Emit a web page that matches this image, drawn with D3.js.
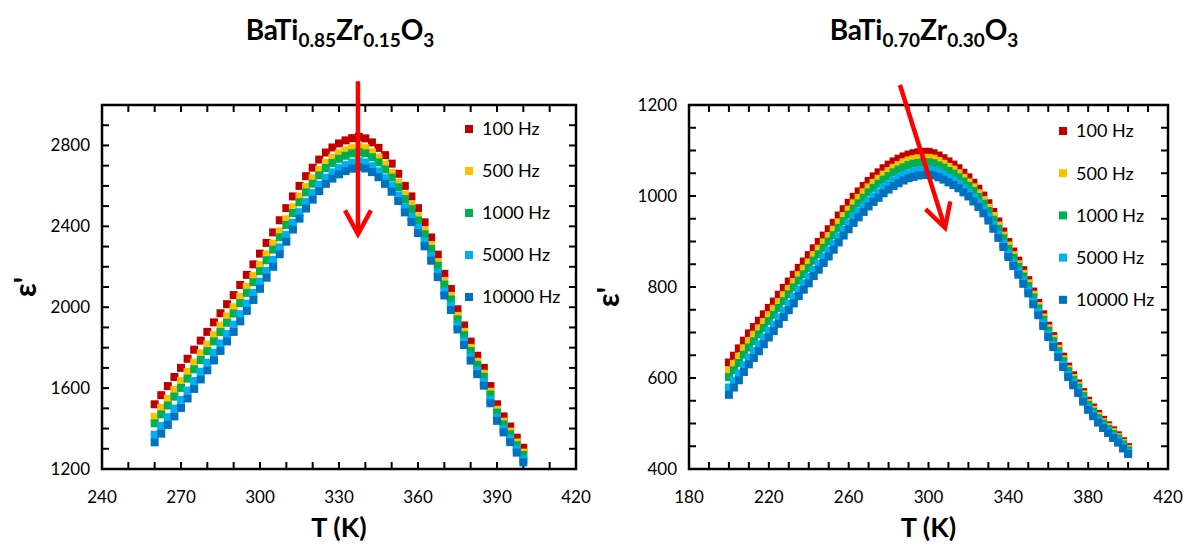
<!DOCTYPE html>
<html><head><meta charset="utf-8">
<script src="https://cdn.jsdelivr.net/npm/d3@7"></script>
<style>
body{margin:0;background:#fff;}
svg{display:block;font-family:Lato,"Open Sans",sans-serif;}
</style>
</head><body>
<svg id="chart" width="1192" height="545"></svg>
<script>
// ---------- data ----------
const frequencies = ["100 Hz", "500 Hz", "1000 Hz", "5000 Hz", "10000 Hz"];
const seriesColors = ["#C00000", "#FFC000", "#00B050", "#00B0F0", "#0070C0"];

// BaTi0.85Zr0.15O3
const tempA = [260,262.5,265,267.5,270,272.5,275,277.5,280,282.5,285,287.5,290,292.5,295,297.5,300,302.5,305,307.5,310,312.5,315,317.5,320,322.5,325,327.5,330,332.5,335,337.5,340,342.5,345,347.5,350,352.5,355,357.5,360,362.5,365,367.5,370,372.5,375,377.5,380,382.5,385,387.5,390,392.5,395,397.5,400];
const epsA_100 = [1520,1565,1610,1655,1700,1745,1790,1835,1878,1925,1970,2015,2060,2110,2160,2212,2265,2318,2370,2430,2490,2548,2600,2648,2690,2730,2765,2790,2810,2825,2836,2842,2835,2815,2788,2752,2710,2660,2600,2548,2490,2420,2345,2260,2165,2090,1990,1910,1830,1760,1700,1610,1520,1460,1410,1355,1305];
const epsA_500 = [1458,1502,1547,1591,1635,1680,1726,1772,1815,1863,1909,1954,2000,2051,2101,2154,2208,2261,2314,2375,2435,2494,2547,2595,2638,2679,2714,2739,2760,2775,2786,2793,2786,2766,2740,2705,2664,2615,2557,2506,2449,2381,2307,2223,2130,2056,1957,1878,1799,1730,1671,1582,1493,1434,1385,1331,1281];
const epsA_1000 = [1426,1470,1514,1558,1601,1647,1693,1739,1783,1831,1877,1923,1969,2020,2071,2124,2178,2232,2285,2346,2407,2466,2519,2568,2611,2652,2688,2713,2734,2749,2761,2767,2761,2742,2716,2681,2641,2593,2535,2485,2429,2361,2288,2205,2112,2038,1940,1862,1783,1715,1656,1568,1479,1421,1372,1318,1269];
const epsA_5000 = [1370,1413,1456,1499,1542,1588,1635,1681,1726,1775,1821,1868,1914,1966,2018,2071,2126,2180,2234,2296,2357,2417,2470,2520,2564,2605,2641,2667,2688,2703,2715,2722,2716,2697,2672,2638,2599,2552,2495,2446,2392,2325,2253,2171,2079,2007,1910,1832,1755,1687,1630,1542,1454,1397,1348,1296,1247];
const epsA_10000 = [1332,1375,1418,1460,1502,1549,1596,1643,1688,1737,1784,1831,1878,1930,1982,2036,2091,2146,2200,2262,2324,2384,2438,2488,2532,2574,2610,2636,2657,2673,2685,2692,2686,2668,2643,2610,2571,2525,2469,2421,2367,2301,2230,2149,2058,1986,1890,1813,1736,1669,1612,1525,1438,1381,1333,1281,1233];

// BaTi0.70Zr0.30O3
const tempB = [200,202.5,205,207.5,210,212.5,215,217.5,220,222.5,225,227.5,230,232.5,235,237.5,240,242.5,245,247.5,250,252.5,255,257.5,260,262.5,265,267.5,270,272.5,275,277.5,280,282.5,285,287.5,290,292.5,295,297.5,300,302.5,305,307.5,310,312.5,315,317.5,320,322.5,325,327.5,330,332.5,335,337.5,340,342.5,345,347.5,350,352.5,355,357.5,360,362.5,365,367.5,370,372.5,375,377.5,380,382.5,385,387.5,390,392.5,395,397.5,400];
const epsB_100 = [634,649,665,682,698,712,726,740,754,768,783,798,812,827,842,856,870,885,899,913,927,941,957,971,985,998,1010,1022,1033,1043,1052,1061,1069,1076,1082,1087,1091,1094,1096,1097,1097,1094,1089,1083,1076,1069,1061,1051,1041,1029,1016,1001,984,965,944,922,899,878,858,837,815,790,765,740,715,692,670,647,625,606,588,569,550,535,521,508,496,485,474,461,448];
const epsB_500 = [616,631,647,665,681,695,709,723,738,752,767,782,796,811,826,840,854,870,884,898,912,926,942,956,970,984,996,1008,1019,1029,1038,1047,1055,1062,1068,1074,1078,1081,1083,1084,1084,1082,1077,1071,1064,1058,1050,1040,1030,1019,1006,991,974,956,935,913,891,870,850,829,808,783,758,733,709,686,664,641,619,600,583,564,545,530,516,503,492,481,470,457,444];
const epsB_1000 = [602,617,633,651,667,681,696,710,725,739,754,769,784,799,814,828,842,858,872,886,900,914,930,945,959,972,984,996,1008,1018,1027,1036,1044,1052,1058,1063,1068,1071,1073,1074,1074,1072,1067,1062,1055,1049,1041,1032,1022,1011,998,983,967,948,928,907,884,864,844,823,802,777,753,728,704,681,659,637,615,596,579,560,541,526,512,500,488,477,467,454,441];
const epsB_5000 = [579,594,610,628,645,659,674,689,703,717,733,748,763,778,794,808,822,837,851,866,880,895,911,926,940,954,966,978,989,999,1008,1018,1026,1034,1040,1046,1050,1053,1056,1057,1058,1056,1052,1046,1040,1034,1027,1017,1008,997,985,971,954,936,916,895,873,853,834,814,792,768,744,720,695,673,651,629,607,589,572,553,534,520,506,494,483,472,462,449,436];
const epsB_10000 = [563,579,595,613,630,644,659,674,689,703,719,734,749,764,780,794,808,824,838,853,867,882,898,913,927,941,953,965,977,987,996,1006,1014,1022,1028,1034,1039,1042,1045,1046,1047,1045,1041,1036,1030,1024,1017,1008,999,988,976,962,946,928,908,888,866,846,827,807,786,762,738,714,690,668,646,624,602,584,567,548,530,516,502,490,479,468,458,445,433];

// axis ticks
const xTicksA = [240,270,300,330,360,390,420];
const yTicksA = [1200,1600,2000,2400,2800];
const xTicksB = [180,220,260,300,340,380,420];
const yTicksB = [400,600,800,1000,1200];

// ---------- drawing ----------
const svg = d3.select("#chart");

function panel(cfg) {
  const g = svg.append("g");
  const x = d3.scaleLinear().domain(cfg.xDomain).range([cfg.left, cfg.right]);
  const y = d3.scaleLinear().domain(cfg.yDomain).range([cfg.bottom, cfg.top]);
  const tickLen = 7;

  // ticks (inside, on all four sides)
  const xt = d3.range(cfg.xDomain[0], cfg.xDomain[1] + 0.01, cfg.xMinor);
  const yt = d3.range(cfg.yDomain[0], cfg.yDomain[1] + 0.01, cfg.yMinor);
  const tk = g.append("g").attr("stroke", "#000").attr("stroke-width", 2);
  xt.forEach(v => {
    tk.append("line").attr("x1", x(v)).attr("x2", x(v)).attr("y1", cfg.bottom).attr("y2", cfg.bottom - tickLen);
    tk.append("line").attr("x1", x(v)).attr("x2", x(v)).attr("y1", cfg.top).attr("y2", cfg.top + tickLen);
  });
  yt.forEach(v => {
    tk.append("line").attr("y1", y(v)).attr("y2", y(v)).attr("x1", cfg.left).attr("x2", cfg.left + tickLen);
    tk.append("line").attr("y1", y(v)).attr("y2", y(v)).attr("x1", cfg.right).attr("x2", cfg.right - tickLen);
  });

  // tick labels
  g.append("g").selectAll("text").data(cfg.xTicks).join("text")
    .attr("x", d => x(d)).attr("y", cfg.bottom + 34)
    .attr("text-anchor", "middle").attr("font-size", 17).attr("fill", "#000")
    .text(d => d);
  g.append("g").selectAll("text").data(cfg.yTicks).join("text")
    .attr("x", cfg.left - 12).attr("y", d => y(d)).attr("dy", "0.35em")
    .attr("text-anchor", "end").attr("font-size", 17).attr("fill", "#000")
    .text(d => d);

  // data squares (first series at the bottom)
  const sz = 8;
  cfg.series.forEach((vals, si) => {
    g.append("g").attr("fill", seriesColors[si]).selectAll("rect")
      .data(vals.map((v, i) => [cfg.temps[i], v])).join("rect")
      .attr("x", d => x(d[0]) - sz / 2).attr("y", d => y(d[1]) - sz / 2)
      .attr("width", sz).attr("height", sz);
  });

  // frame
  g.append("rect").attr("x", cfg.left).attr("y", cfg.top)
    .attr("width", cfg.right - cfg.left).attr("height", cfg.bottom - cfg.top)
    .attr("fill", "none").attr("stroke", "#000").attr("stroke-width", 2.5);

  // legend
  frequencies.forEach((f, i) => {
    const ly = cfg.legY + i * cfg.legStep;
    g.append("rect").attr("x", cfg.legX - 4).attr("y", ly - 4).attr("width", 8).attr("height", 8)
      .attr("fill", seriesColors[i]);
    g.append("text").attr("x", cfg.legX + 13).attr("y", ly).attr("dy", "0.36em")
      .attr("font-size", 18).attr("fill", "#000").text(f);
  });

  // axis titles
  g.append("text").attr("x", (cfg.left + cfg.right) / 2).attr("y", 537)
    .attr("text-anchor", "middle").attr("font-size", 27).attr("font-weight", "bold")
    .text("T (K)");
  g.append("text").attr("transform", `translate(${cfg.yLabX},${cfg.yLabY}) rotate(-90)`)
    .attr("text-anchor", "middle").attr("font-size", 30).attr("font-weight", "bold")
    .text("\u03B5'");

  // chart title with subscripts
  const t = g.append("text").attr("x", cfg.titleX).attr("y", 40)
    .attr("text-anchor", "middle").attr("font-size", 28).attr("font-weight", "bold");
  cfg.title.forEach(p => {
    if (p.sub) t.append("tspan").attr("font-size", 19).attr("dy", 7).text(p.t);
    else t.append("tspan").attr("dy", p.after ? -7 : 0).text(p.t);
  });

  // red arrow (annotation, in data coordinates)
  const a0 = [x(cfg.arrow[0][0]), y(cfg.arrow[0][1])];
  const a1 = [x(cfg.arrow[1][0]), y(cfg.arrow[1][1])];
  const ang = Math.atan2(a1[1] - a0[1], a1[0] - a0[0]);
  const hl = 27, ha = 0.5;
  const p1 = [a1[0] - hl * Math.cos(ang - ha), a1[1] - hl * Math.sin(ang - ha)];
  const p2 = [a1[0] - hl * Math.cos(ang + ha), a1[1] - hl * Math.sin(ang + ha)];
  g.append("line").attr("x1", a0[0]).attr("y1", a0[1]).attr("x2", a1[0]).attr("y2", a1[1])
    .attr("stroke", "#FF0000").attr("stroke-width", 4.5);
  g.append("path").attr("d", `M${p1[0]},${p1[1]}L${a1[0]},${a1[1]}L${p2[0]},${p2[1]}`)
    .attr("fill", "none").attr("stroke", "#FF0000").attr("stroke-width", 4.5)
    .attr("stroke-linejoin", "miter");
}

panel({
  left: 102, right: 576, top: 105, bottom: 469,
  xDomain: [240, 420], yDomain: [1200, 3000], xMinor: 10, yMinor: 100,
  xTicks: xTicksA, yTicks: yTicksA, temps: tempA,
  series: [epsA_100, epsA_500, epsA_1000, epsA_5000, epsA_10000],
  legX: 469, legY: 129, legStep: 42,
  yLabX: 36, yLabY: 287,
  titleX: 340,
  title: [{t:"BaTi"},{t:"0.85",sub:true},{t:"Zr",after:true},{t:"0.15",sub:true},{t:"O",after:true},{t:"3",sub:true}],
  arrow: [[337.2, 3118], [337.2, 2362]]
});

panel({
  left: 689, right: 1168, top: 105, bottom: 469,
  xDomain: [180, 420], yDomain: [400, 1200], xMinor: 10, yMinor: 50,
  xTicks: xTicksB, yTicks: yTicksB, temps: tempB,
  series: [epsB_100, epsB_500, epsB_1000, epsB_5000, epsB_10000],
  legX: 1063, legY: 131, legStep: 42.2,
  yLabX: 619, yLabY: 297,
  titleX: 924,
  title: [{t:"BaTi"},{t:"0.70",sub:true},{t:"Zr",after:true},{t:"0.30",sub:true},{t:"O",after:true},{t:"3",sub:true}],
  arrow: [[285.7, 1244], [308.3, 930]]
});
</script>
</body></html>
